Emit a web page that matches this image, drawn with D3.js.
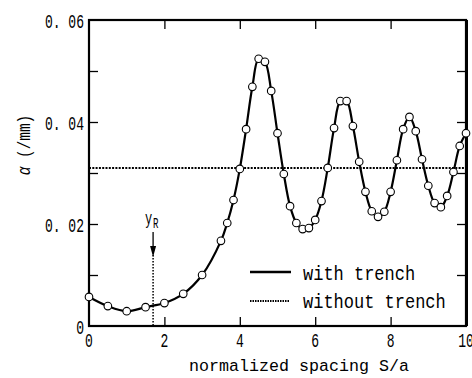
<!DOCTYPE html>
<html><head><meta charset="utf-8">
<script src="https://cdn.jsdelivr.net/npm/d3@7"></script>
<style>body{margin:0;background:#fff}svg{display:block}</style>
</head><body>
<svg id="c" width="472" height="378"></svg>
<script>
// data
const spacing = [0,0.5,1,1.5,2,2.5,3,3.5,3.667,3.833,4,4.167,4.333,4.5,4.667,4.833,5,5.167,5.333,5.5,5.667,5.833,6,6.167,6.333,6.5,6.667,6.833,7,7.167,7.333,7.5,7.667,7.833,8,8.167,8.333,8.5,8.667,8.833,9,9.167,9.333,9.5,9.667,9.833,10];
const withTrench = [0.0057,0.0039,0.0029,0.0037,0.0045,0.0063,0.0100,0.0167,0.0202,0.0247,0.0308,0.0386,0.0469,0.0524,0.0518,0.0461,0.0378,0.0298,0.0235,0.0202,0.0190,0.0192,0.0208,0.0245,0.0310,0.0388,0.0441,0.0441,0.0392,0.0322,0.0263,0.0225,0.0214,0.0224,0.0263,0.0325,0.0386,0.0410,0.0382,0.0327,0.0275,0.0241,0.0233,0.0255,0.0302,0.0353,0.0378];
const withoutTrench = 0.031;
const yR = 1.7;
const xTicks = [0,2,4,6,8,10];
const yTicks = [0,0.01,0.02,0.03,0.04,0.05,0.06];
const yLabels = [0.02,0.04,0.06];
const legendLabels = ["with trench","without trench"];

const svg = d3.select("#c");
const L=89,R=466,T=20,B=326;
const x = d3.scaleLinear().domain([0,10]).range([L,R]);
const y = d3.scaleLinear().domain([0,0.06]).range([B,T]);
const FONT = "'Liberation Mono', 'DejaVu Sans Mono', monospace";

function ctext(str, px, py, size, sx, sy, anchor, rot){
  return svg.append("text")
    .attr("transform", `translate(${px},${py})` + (rot?` rotate(${rot})`:"") + ` scale(${sx},${sy})`)
    .attr("font-family", FONT).attr("font-size", size)
    .attr("text-anchor", anchor||"start").attr("fill","#000")
    .text(str);
}

// frame
const g = svg.append("g");
g.append("rect").attr("x",L).attr("y",T).attr("width",R-L).attr("height",B-T)
  .attr("fill","none").attr("stroke","#000").attr("stroke-width",2.2);
g.append("line").attr("x1",R+0.5).attr("x2",R+0.5).attr("y1",T).attr("y2",B)
  .attr("stroke","#000").attr("stroke-width",3);

// axes ticks via d3 axes (inward)
const tl = 9;
function styleAxis(a){ a.select(".domain").remove(); a.selectAll("line").attr("stroke-width",1.3); }
svg.append("g").attr("transform",`translate(0,${B})`)
  .call(d3.axisBottom(x).tickValues(xTicks.slice(1,-1)).tickSize(-tl).tickFormat("")).call(styleAxis);
svg.append("g").attr("transform",`translate(0,${T})`)
  .call(d3.axisTop(x).tickValues(xTicks.slice(1,-1)).tickSize(-tl).tickFormat("")).call(styleAxis);
svg.append("g").attr("transform",`translate(${L},0)`)
  .call(d3.axisLeft(y).tickValues(yTicks.slice(1,-1)).tickSize(-tl).tickFormat("")).call(styleAxis);
svg.append("g").attr("transform",`translate(${R},0)`)
  .call(d3.axisRight(y).tickValues(yTicks.slice(1,-1)).tickSize(-tl).tickFormat("")).call(styleAxis);

// tick labels
xTicks.forEach(v=>ctext(String(v), x(v), 347, 21, 0.62, 1.0, "middle"));
yLabels.forEach(v=>ctext(d3.format(".2f")(v).replace(".", ". "), 84, y(v)+7.5, 21, 0.62, 1.0, "end"));
ctext("0", 84, B+8, 21, 0.62, 1.0, "end");

// axis titles
ctext("normalized spacing S/a", 299, 371, 17, 0.98, 1.0, "middle");
const yl = svg.append("text")
  .attr("transform",`translate(30,145) rotate(-90) scale(0.8,1)`)
  .attr("font-family",FONT).attr("font-size",18).attr("text-anchor","middle");
yl.append("tspan").attr("font-style","italic").text("α");
yl.append("tspan").text(" (/mm)");

// without trench line
svg.append("line").attr("x1",L).attr("x2",R).attr("y1",y(withoutTrench)).attr("y2",y(withoutTrench))
  .attr("stroke","#000").attr("stroke-width",2).attr("stroke-dasharray","2,1.3");

// yR marker
svg.append("line").attr("x1",x(yR)).attr("x2",x(yR)).attr("y1",255).attr("y2",B)
  .attr("stroke","#000").attr("stroke-width",1.5).attr("stroke-dasharray","1.5,1.5");
svg.append("line").attr("x1",x(yR)).attr("x2",x(yR)).attr("y1",232).attr("y2",250)
  .attr("stroke","#000").attr("stroke-width",1.3);
svg.append("path").attr("d",`M${x(yR)-3},${246} L${x(yR)+3},${246} L${x(yR)},${257} Z`).attr("fill","#000");
ctext("y", x(yR)-1, 224, 16, 0.75, 1.1, "end");
ctext("R", x(yR)+0, 228, 13, 0.7, 1.1, "start");

// with trench line
const line = d3.line().x((d,i)=>x(spacing[i])).y(d=>y(d)).curve(d3.curveCatmullRom);
svg.append("path").datum(withTrench).attr("d",line).attr("fill","none")
  .attr("stroke","#000").attr("stroke-width",2.2);
svg.selectAll("circle.p").data(withTrench).enter().append("circle").attr("class","p")
  .attr("cx",(d,i)=>x(spacing[i])).attr("cy",d=>y(d)).attr("r",3.8)
  .attr("fill","#fff").attr("stroke","#000").attr("stroke-width",1.1);

// legend
svg.append("line").attr("x1",250).attr("x2",291).attr("y1",272).attr("y2",272)
  .attr("stroke","#000").attr("stroke-width",2.5);
svg.append("line").attr("x1",250).attr("x2",289).attr("y1",301).attr("y2",301)
  .attr("stroke","#000").attr("stroke-width",1.8).attr("stroke-dasharray","1.5,1");
ctext(legendLabels[0], 303, 280, 20, 0.85, 1.0, "start");
ctext(legendLabels[1], 303, 308, 20, 0.85, 1.0, "start");
</script>
</body></html>
